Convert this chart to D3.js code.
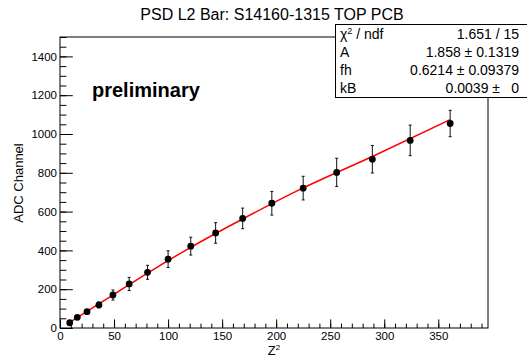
<!DOCTYPE html>
<html>
<head>
<meta charset="utf-8">
<script src="https://cdn.jsdelivr.net/npm/d3@7"></script>
<style>
  body { margin: 0; background: #fff; }
  svg { display: block; font-family: "Liberation Sans", Arial, Helvetica, sans-serif; }
</style>
</head>
<body>
<svg id="chart" width="527" height="358"></svg>
<script>
// measured points (Z^2 vs ADC channel)
var z2 = [9, 16, 25, 36, 49, 64, 81, 100, 121, 144, 169, 196, 225, 256, 289, 324, 361];
var adc = [27, 55, 84, 119, 170, 227, 287, 355, 422, 490, 565, 643, 721, 802, 870, 967, 1054];
var adcErr = [6, 8, 10, 15, 26, 34, 36, 43, 46, 53, 53, 61, 61, 73, 71, 79, 68];

// fit curve
var fitX = [9, 25, 49, 81, 121, 169, 225, 289, 361];
var fitY = [29, 86, 170, 283, 416, 562, 722, 884, 1074];

var xTicks = [0, 50, 100, 150, 200, 250, 300, 350];
var yTicks = [0, 200, 400, 600, 800, 1000, 1200, 1400];

var statNames = ["A", "fh", "kB"];
var statValues = ["1.858 \u00b1 0.1319", "0.6214 \u00b1 0.09379", "0.0039 \u00b1"];

// frame edges
var frameL = 60, frameR = 488, frameT = 37, frameB = 328;

var svg = d3.select("#chart");

var x = d3.scaleLinear().domain([0, 396]).range([frameL, frameR]);
var y = d3.scaleLinear().domain([0, 1500]).range([frameB, frameT]);

// title
svg.append("text")
  .attr("x", 272)
  .attr("y", 20)
  .attr("text-anchor", "middle")
  .style("font-size", "16px")
  .text("PSD L2 Bar: S14160-1315 TOP PCB");

// minor ticks
svg.append("g")
  .attr("transform", "translate(0," + frameB + ")")
  .call(d3.axisBottom(x).tickValues(d3.range(0, 396, 10)).tickSize(-4.4).tickFormat(""))
  .call(function (g) { g.select(".domain").remove(); });

svg.append("g")
  .attr("transform", "translate(" + frameL + ",0)")
  .call(d3.axisLeft(y).tickValues(d3.range(0, 1501, 50)).tickSize(-6.4).tickFormat(""))
  .call(function (g) { g.select(".domain").remove(); });

// major ticks + labels
var xAxis = svg.append("g")
  .attr("transform", "translate(0," + frameB + ")")
  .call(d3.axisBottom(x).tickValues(xTicks).tickSize(-8.6).tickPadding(4).tickFormat(d3.format("d")));
xAxis.select(".domain").remove();
xAxis.selectAll("text").style("font-size", "11.5px").attr("fill", "#000");

var yAxis = svg.append("g")
  .attr("transform", "translate(" + frameL + ",0)")
  .call(d3.axisLeft(y).tickValues(yTicks).tickSize(-12.8).tickPadding(3).tickFormat(d3.format("d")));
yAxis.select(".domain").remove();
yAxis.selectAll("text").style("font-size", "11.5px").attr("fill", "#000");

svg.selectAll(".tick line").attr("stroke", "#000");

// axis titles
var xt = svg.append("text")
  .attr("x", 274)
  .attr("y", 355)
  .attr("text-anchor", "middle")
  .style("font-size", "13px");
xt.append("tspan").text("Z");
xt.append("tspan").attr("dy", "-5").style("font-size", "8px").text("2");

svg.append("text")
  .attr("transform", "translate(23,183) rotate(-90)")
  .attr("text-anchor", "middle")
  .style("font-size", "13px")
  .text("ADC Channel");

// frame
svg.append("rect")
  .attr("x", frameL)
  .attr("y", frameT)
  .attr("width", frameR - frameL)
  .attr("height", frameB - frameT)
  .attr("fill", "none")
  .attr("stroke", "#000")
  .attr("stroke-width", 1);

// "preliminary"
svg.append("text")
  .attr("x", 92)
  .attr("y", 97)
  .style("font-size", "20px")
  .style("font-weight", "bold")
  .text("preliminary");

// fit line
var fitData = fitX.map(function (d, i) { return [d, fitY[i]]; });
svg.append("path")
  .datum(fitData)
  .attr("fill", "none")
  .attr("stroke", "#ff0000")
  .attr("stroke-width", 1.5)
  .attr("d", d3.line()
    .x(function (d) { return x(d[0]); })
    .y(function (d) { return y(d[1]); })
    .curve(d3.curveMonotoneX));

// error bars
var pts = z2.map(function (d, i) { return { z: d, v: adc[i], e: adcErr[i] }; });

var eb = svg.append("g").attr("stroke", "#111").attr("stroke-width", 1);
eb.selectAll(".ebar")
  .data(pts)
  .enter()
  .append("line")
  .attr("class", "ebar")
  .attr("x1", function (d) { return x(d.z); })
  .attr("x2", function (d) { return x(d.z); })
  .attr("y1", function (d) { return y(d.v - d.e); })
  .attr("y2", function (d) { return y(d.v + d.e); });

eb.selectAll(".capTop")
  .data(pts)
  .enter()
  .append("line")
  .attr("x1", function (d) { return x(d.z) - 1.5; })
  .attr("x2", function (d) { return x(d.z) + 1.5; })
  .attr("y1", function (d) { return y(d.v + d.e); })
  .attr("y2", function (d) { return y(d.v + d.e); });

eb.selectAll(".capBot")
  .data(pts)
  .enter()
  .append("line")
  .attr("x1", function (d) { return x(d.z) - 1.5; })
  .attr("x2", function (d) { return x(d.z) + 1.5; })
  .attr("y1", function (d) { return y(d.v - d.e); })
  .attr("y2", function (d) { return y(d.v - d.e); });

// markers
svg.selectAll(".pt")
  .data(pts)
  .enter()
  .append("circle")
  .attr("class", "pt")
  .attr("cx", function (d) { return x(d.z); })
  .attr("cy", function (d) { return y(d.v); })
  .attr("r", 3.4)
  .attr("fill", "#000");

// stats box
var sb = svg.append("g");
sb.append("rect")
  .attr("x", 335.5)
  .attr("y", 24.5)
  .attr("width", 200)
  .attr("height", 73)
  .attr("fill", "#fff")
  .attr("stroke", "#000");

var rowY = [39, 57, 75, 93];
var chi = sb.append("text")
  .attr("x", 340)
  .attr("y", rowY[0])
  .style("font-size", "14px");
chi.append("tspan").text("\u03c7");
chi.append("tspan").attr("dy", "-5").style("font-size", "9px").text("2");
chi.append("tspan").attr("dy", "5").text(" / ndf");

sb.append("text")
  .attr("x", 519)
  .attr("y", rowY[0])
  .attr("text-anchor", "end")
  .style("font-size", "14px")
  .text("1.651 / 15");

statNames.forEach(function (n, i) {
  sb.append("text")
    .attr("x", 340)
    .attr("y", rowY[i + 1])
    .style("font-size", "14px")
    .text(n);
  sb.append("text")
    .attr("x", i == 2 ? 500 : 519)
    .attr("y", rowY[i + 1])
    .attr("text-anchor", "end")
    .style("font-size", "14px")
    .text(statValues[i]);
});

sb.append("text")
  .attr("x", 519)
  .attr("y", rowY[3])
  .attr("text-anchor", "end")
  .style("font-size", "14px")
  .text("0");
</script>
</body>
</html>
